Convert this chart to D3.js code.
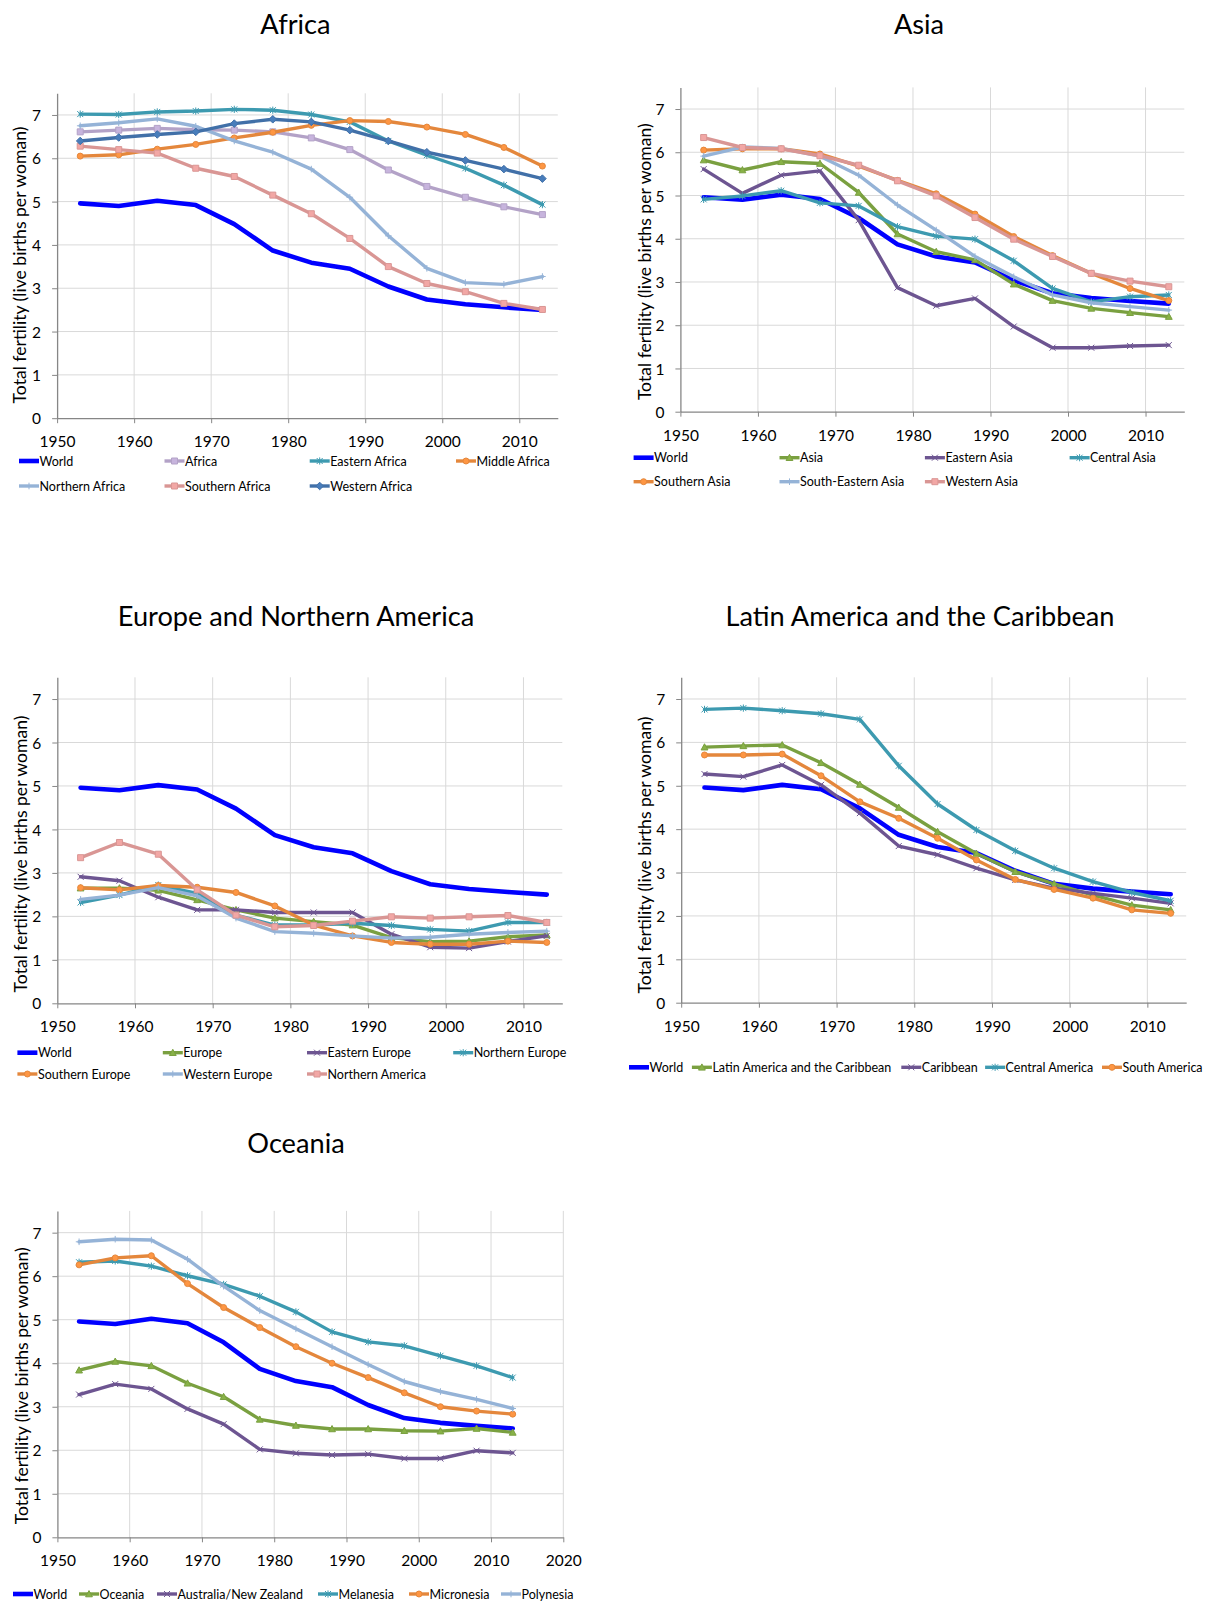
<!DOCTYPE html>
<html>
<head>
<meta charset="utf-8">
<script src="https://cdn.jsdelivr.net/npm/d3@7"></script>
<style>
  body { margin: 0; background: #fff; }
  svg { display: block; font-family: Lato, "Noto Sans", sans-serif; }
</style>
</head>
<body>
<svg id="chart" width="1207" height="1602"></svg>
<script>
// Five-year period midpoints (1950-1955 ... 2010-2015)
const years = [1953, 1958, 1963, 1968, 1973, 1978, 1983, 1988, 1993, 1998, 2003, 2008, 2013];
const yTicks = [0, 1, 2, 3, 4, 5, 6, 7];
const xTicks = [1950, 1960, 1970, 1980, 1990, 2000, 2010];
const xTicksWide = [1950, 1960, 1970, 1980, 1990, 2000, 2010, 2020];

// Total fertility, live births per woman
const world = [4.96, 4.90, 5.02, 4.92, 4.48, 3.87, 3.59, 3.45, 3.04, 2.74, 2.63, 2.56, 2.50];

const africa         = [6.61, 6.65, 6.69, 6.66, 6.65, 6.61, 6.47, 6.20, 5.73, 5.35, 5.10, 4.88, 4.70];
const easternAfrica  = [7.02, 7.01, 7.07, 7.09, 7.13, 7.11, 7.01, 6.84, 6.40, 6.07, 5.77, 5.38, 4.93];
const middleAfrica   = [6.05, 6.08, 6.21, 6.32, 6.47, 6.60, 6.76, 6.87, 6.85, 6.72, 6.55, 6.25, 5.82];
const northernAfrica = [6.75, 6.82, 6.91, 6.74, 6.40, 6.14, 5.75, 5.10, 4.21, 3.46, 3.13, 3.09, 3.27];
const southernAfrica = [6.28, 6.20, 6.12, 5.77, 5.58, 5.15, 4.72, 4.15, 3.50, 3.11, 2.92, 2.65, 2.51];
const westernAfrica  = [6.40, 6.48, 6.55, 6.61, 6.80, 6.90, 6.84, 6.65, 6.40, 6.14, 5.95, 5.75, 5.53];

const asia             = [5.82, 5.59, 5.78, 5.74, 5.07, 4.11, 3.70, 3.51, 2.95, 2.57, 2.39, 2.29, 2.20];
const easternAsia      = [5.61, 5.05, 5.47, 5.57, 4.43, 2.87, 2.45, 2.62, 1.97, 1.48, 1.48, 1.52, 1.54];
const centralAsia      = [4.91, 4.99, 5.11, 4.83, 4.76, 4.28, 4.06, 3.99, 3.49, 2.85, 2.54, 2.66, 2.70];
const southernAsia     = [6.05, 6.08, 6.08, 5.96, 5.68, 5.35, 5.04, 4.57, 4.05, 3.61, 3.20, 2.85, 2.57];
const southEasternAsia = [5.91, 6.12, 6.09, 5.91, 5.47, 4.78, 4.20, 3.59, 3.12, 2.70, 2.52, 2.43, 2.35];
const westernAsia      = [6.34, 6.11, 6.08, 5.92, 5.70, 5.34, 4.99, 4.49, 3.99, 3.59, 3.20, 3.02, 2.89];

const europe          = [2.65, 2.65, 2.60, 2.38, 2.15, 1.96, 1.88, 1.80, 1.51, 1.42, 1.43, 1.53, 1.57];
const easternEurope   = [2.91, 2.82, 2.44, 2.15, 2.15, 2.09, 2.09, 2.09, 1.59, 1.29, 1.27, 1.42, 1.55];
const northernEurope  = [2.32, 2.49, 2.72, 2.53, 2.03, 1.80, 1.80, 1.84, 1.79, 1.70, 1.66, 1.86, 1.86];
const southernEurope  = [2.66, 2.61, 2.71, 2.67, 2.55, 2.24, 1.80, 1.55, 1.40, 1.36, 1.36, 1.43, 1.40];
const westernEurope   = [2.39, 2.49, 2.66, 2.47, 1.96, 1.65, 1.61, 1.55, 1.50, 1.52, 1.59, 1.63, 1.66];
const northernAmerica = [3.35, 3.70, 3.43, 2.61, 2.03, 1.76, 1.79, 1.89, 1.99, 1.96, 1.99, 2.02, 1.86];

const latinAmerica   = [5.89, 5.92, 5.94, 5.53, 5.03, 4.50, 3.94, 3.44, 3.02, 2.74, 2.48, 2.25, 2.14];
const caribbean      = [5.27, 5.21, 5.48, 5.02, 4.37, 3.61, 3.41, 3.10, 2.83, 2.64, 2.52, 2.41, 2.29];
const centralAmerica = [6.76, 6.79, 6.73, 6.66, 6.53, 5.46, 4.58, 3.98, 3.50, 3.10, 2.79, 2.54, 2.35];
const southAmerica   = [5.71, 5.71, 5.73, 5.23, 4.63, 4.25, 3.79, 3.29, 2.84, 2.61, 2.41, 2.14, 2.06];

const oceania     = [3.84, 4.04, 3.94, 3.54, 3.23, 2.71, 2.57, 2.49, 2.49, 2.45, 2.44, 2.50, 2.41];
const australiaNZ = [3.28, 3.52, 3.41, 2.95, 2.60, 2.02, 1.93, 1.89, 1.91, 1.81, 1.81, 1.99, 1.94];
const melanesia   = [6.32, 6.35, 6.23, 6.01, 5.81, 5.54, 5.18, 4.72, 4.49, 4.40, 4.17, 3.94, 3.67];
const micronesia  = [6.26, 6.42, 6.47, 5.83, 5.28, 4.82, 4.38, 4.00, 3.67, 3.32, 3.00, 2.90, 2.83];
const polynesia   = [6.79, 6.85, 6.83, 6.39, 5.77, 5.21, 4.79, 4.38, 3.97, 3.58, 3.35, 3.17, 2.96];

// Line and marker styles
const styles = {
  world:     { color: "#0000FF", width: 4.6, marker: null },
  lavender:  { color: "#B3A2C7", width: 3.4, marker: "square" },
  teal:      { color: "#3D9AB0", width: 3.4, marker: "star" },
  orange:    { color: "#E4873C", width: 3.4, marker: "circle" },
  lightBlue: { color: "#95B3D7", width: 3.4, marker: "plus" },
  pink:      { color: "#D99694", width: 3.4, marker: "square" },
  navy:      { color: "#4170A8", width: 3.4, marker: "diamond" },
  green:     { color: "#7AA040", width: 3.4, marker: "triangle" },
  purple:    { color: "#6D5591", width: 3.4, marker: "cross" }
};

const markerPaths = {
  square:   "M-3,-3H3V3H-3Z",
  diamond:  "M0,-3.8L3.8,0L0,3.8L-3.8,0Z",
  triangle: "M0,-3.4L3.4,2.8L-3.4,2.8Z",
  circle:   "M3,0A3,3 0 1,1 -3,0A3,3 0 1,1 3,0Z",
  plus:     "M-3.3,0H3.3M0,-3.3V3.3",
  cross:    "M-3,-3L3,3M-3,3L3,-3",
  star:     "M-3,-3L3,3M-3,3L3,-3M0,-3.6V3.6"
};

const panels = [
  {
    title: "Africa",
    series: [
      ["World", world, "world"], ["Africa", africa, "lavender"],
      ["Eastern Africa", easternAfrica, "teal"], ["Middle Africa", middleAfrica, "orange"],
      ["Northern Africa", northernAfrica, "lightBlue"], ["Southern Africa", southernAfrica, "pink"],
      ["Western Africa", westernAfrica, "navy"]
    ],
    ticks: xTicks, xMax: 2015,
    box: { left: 57.1, right: 557.8, bottom: 418.2, top: 93.3 },
    title_xy: [295.5, 23.5], ylab_xy: [19.6, 265],
    legend: { cols: [19, 164.5, 309.7, 456], rows: [461, 486] }
  },
  {
    title: "Asia",
    series: [
      ["World", world, "world"], ["Asia", asia, "green"],
      ["Eastern Asia", easternAsia, "purple"], ["Central Asia", centralAsia, "teal"],
      ["Southern Asia", southernAsia, "orange"], ["South-Eastern Asia", southEasternAsia, "lightBlue"],
      ["Western Asia", westernAsia, "pink"]
    ],
    ticks: xTicks, xMax: 2015,
    box: { left: 680.4, right: 1184.3, bottom: 411.7, top: 87.4 },
    title_xy: [919, 23.5], ylab_xy: [644.3, 261.7],
    legend: { cols: [633.6, 779.5, 924.9, 1069.6], rows: [457.7, 481.7] }
  },
  {
    title: "Europe and Northern America",
    series: [
      ["World", world, "world"], ["Europe", europe, "green"],
      ["Eastern Europe", easternEurope, "purple"], ["Northern Europe", northernEurope, "teal"],
      ["Southern Europe", southernEurope, "orange"], ["Western Europe", westernEurope, "lightBlue"],
      ["Northern America", northernAmerica, "pink"]
    ],
    ticks: xTicks, xMax: 2015,
    box: { left: 57.3, right: 562.3, bottom: 1003.3, top: 677.3 },
    title_xy: [296, 615], ylab_xy: [20.3, 854],
    legend: { cols: [17.4, 162.8, 307, 453.2], rows: [1052.7, 1074] }
  },
  {
    title: "Latin America and the Caribbean",
    series: [
      ["World", world, "world"], ["Latin America and the Caribbean", latinAmerica, "green"],
      ["Caribbean", caribbean, "purple"], ["Central America", centralAmerica, "teal"],
      ["South America", southAmerica, "orange"]
    ],
    ticks: xTicks, xMax: 2015,
    box: { left: 681.2, right: 1186.2, bottom: 1002.7, top: 677.3 },
    title_xy: [920, 615], ylab_xy: [644.3, 855],
    legend: { starts: [629, 691.9, 901.3, 985.1, 1102], row: 1067.3 }
  },
  {
    title: "Oceania",
    series: [
      ["World", world, "world"], ["Oceania", oceania, "green"],
      ["Australia/New Zealand", australiaNZ, "purple"], ["Melanesia", melanesia, "teal"],
      ["Micronesia", micronesia, "orange"], ["Polynesia", polynesia, "lightBlue"]
    ],
    ticks: xTicksWide, xMax: 2020,
    box: { left: 57.4, right: 563.3, bottom: 1537.3, top: 1210.9 },
    title_xy: [296, 1142.6], ylab_xy: [21, 1385.8],
    legend: { starts: [13, 79, 157, 318, 409, 501], row: 1594 }
  }
];

const svg = d3.select("#chart");
const GRID = "#D9D9D9", AXIS = "#868686", TEXT = "#000";

function drawMarker(sel, st, cx, cy) {
  if (!st.marker) return;
  const filled = !["plus", "cross", "star"].includes(st.marker);
  sel.append("path")
    .attr("d", markerPaths[st.marker])
    .attr("transform", `translate(${cx},${cy})`)
    .attr("fill", filled ? d3.color(st.color).brighter(0.3) : "none")
    .attr("stroke", st.color)
    .attr("stroke-width", 1);
}

function legendItem(g, name, st, x0, y0) {
  const it = g.append("g");
  it.append("line")
    .attr("x1", x0).attr("x2", x0 + 20).attr("y1", y0).attr("y2", y0)
    .attr("stroke", st.color).attr("stroke-width", st.width);
  drawMarker(it, st, x0 + 10, y0);
  return it.append("text")
    .attr("x", x0 + 20.5).attr("y", y0)
    .attr("dominant-baseline", "central")
    .attr("font-size", 12.5).attr("fill", TEXT)
    .text(name);
}

function drawPanel(p) {
  const b = p.box;
  const x = d3.scaleLinear().domain([1950, p.xMax]).range([b.left, b.right]);
  const y = d3.scaleLinear().domain([0, 7.5]).range([b.bottom, b.top]);
  const g = svg.append("g");

  // gridlines
  g.append("g").selectAll("line").data(yTicks.filter(v => v > 0)).join("line")
    .attr("x1", b.left).attr("x2", b.right)
    .attr("y1", d => y(d)).attr("y2", d => y(d))
    .attr("stroke", GRID).attr("stroke-width", 1);
  g.append("g").selectAll("line").data(p.ticks.filter(v => v > 1950)).join("line")
    .attr("x1", d => x(d)).attr("x2", d => x(d))
    .attr("y1", b.top).attr("y2", b.bottom)
    .attr("stroke", GRID).attr("stroke-width", 1);

  // axes
  const ya = g.append("g").attr("transform", `translate(${b.left},0)`)
    .call(d3.axisLeft(y).tickValues(yTicks).tickSize(5).tickSizeOuter(0).tickPadding(11).tickFormat(d3.format("d")));
  const xa = g.append("g").attr("transform", `translate(0,${b.bottom})`)
    .call(d3.axisBottom(x).tickValues(p.ticks).tickSize(5).tickSizeOuter(0).tickPadding(10).tickFormat(d3.format("d")));
  [ya, xa].forEach(a => {
    a.select(".domain").attr("stroke", AXIS).attr("stroke-width", 1.3);
    a.selectAll(".tick line").attr("stroke", AXIS);
    a.selectAll(".tick text").attr("fill", TEXT).attr("font-size", 15.5)
      .attr("font-family", "Lato, 'Noto Sans', sans-serif");
  });
  xa.selectAll(".tick text").attr("dy", "0.9em");
  ya.selectAll(".tick text").attr("dy", "0.36em");

  // series
  const line = d3.line().x((d, i) => x(years[i])).y(d => y(d));
  p.series.forEach(([name, values, key]) => {
    const st = styles[key];
    const sg = g.append("g");
    sg.append("path").datum(values)
      .attr("d", line).attr("fill", "none")
      .attr("stroke", st.color).attr("stroke-width", st.width)
      .attr("stroke-linejoin", "round").attr("stroke-linecap", "round");
    values.forEach((v, i) => drawMarker(sg, st, x(years[i]), y(v)));
  });

  // title
  g.append("text").attr("x", p.title_xy[0]).attr("y", p.title_xy[1])
    .attr("text-anchor", "middle").attr("dominant-baseline", "central")
    .attr("font-size", 27.2).attr("fill", TEXT).text(p.title);

  // y axis title, sized to the span of the plot
  const yl = g.append("text")
    .attr("transform", `translate(${p.ylab_xy[0]},${p.ylab_xy[1]}) rotate(-90)`)
    .attr("text-anchor", "middle").attr("dominant-baseline", "central")
    .attr("font-size", 18).attr("fill", TEXT)
    .text("Total fertility (live births per woman)");
  const len = yl.node().getComputedTextLength();
  yl.attr("font-size", 18 * 277 / len);

  // legend
  const lg = g.append("g");
  if (p.legend.cols) {
    p.series.forEach(([name, , key], i) => {
      legendItem(lg, name, styles[key], p.legend.cols[i % 4], p.legend.rows[Math.floor(i / 4)]);
    });
  } else {
    const s = p.legend.starts;
    p.series.forEach(([name, , key], i) => {
      const t = legendItem(lg, name, styles[key], s[i], p.legend.row);
      const room = (i + 1 < s.length ? s[i + 1] - 5 : 1206) - (s[i] + 20.5);
      const w = t.node().getComputedTextLength();
      if (w > room) t.attr("textLength", room).attr("lengthAdjust", "spacingAndGlyphs");
    });
  }
}

panels.forEach(drawPanel);
</script>
</body>
</html>
